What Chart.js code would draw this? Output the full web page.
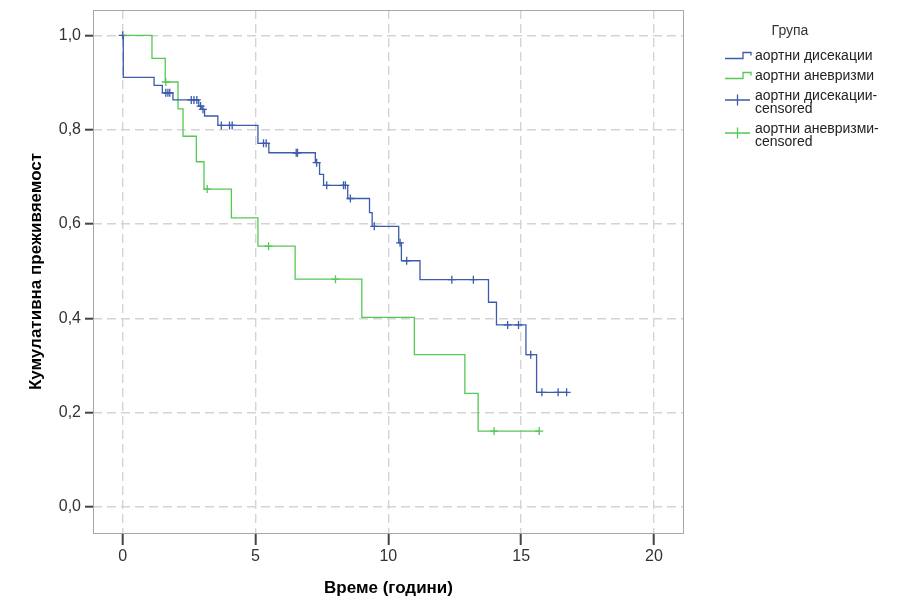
<!DOCTYPE html>
<html>
<head>
<meta charset="utf-8">
<script src="https://cdn.jsdelivr.net/npm/chart.js@4.4.0/dist/chart.umd.min.js"></script>
<style>
  html, body { margin: 0; padding: 0; background: #fff; }
  #wrap { width: 909px; height: 614px; }
</style>
</head>
<body>
<div id="wrap"><canvas id="kmChart" width="909" height="614"></canvas></div>
<script>
// Kaplan-Meier steps: time of drop and survival after the drop
const dissTimes = [0, 0.02, 1.18, 1.49, 1.89, 2.86, 2.98, 3.08, 3.58, 5.09, 5.5, 7.25, 7.41, 7.56, 8.47, 9.29, 9.39, 10.39, 10.49, 11.19, 13.77, 14.07, 15.18, 15.58, 16.71];
const dissSurv  = [1.0, 0.911, 0.894, 0.878, 0.863, 0.850, 0.843, 0.829, 0.809, 0.771, 0.751, 0.730, 0.705, 0.682, 0.654, 0.624, 0.595, 0.560, 0.522, 0.482, 0.434, 0.386, 0.323, 0.243, 0.243];
const dissCensorTimes = [0, 1.62, 1.70, 1.77, 2.58, 2.68, 2.79, 2.93, 3.02, 3.71, 4.02, 4.12, 5.30, 5.40, 6.53, 6.58, 7.30, 7.68, 8.31, 8.38, 8.57, 9.47, 10.44, 10.69, 12.39, 13.20, 14.49, 14.90, 15.36, 15.78, 16.39, 16.71];
const dissCensorSurv  = [1.0, 0.878, 0.878, 0.878, 0.863, 0.863, 0.863, 0.850, 0.843, 0.809, 0.809, 0.809, 0.771, 0.771, 0.751, 0.751, 0.730, 0.682, 0.682, 0.682, 0.654, 0.595, 0.560, 0.522, 0.482, 0.482, 0.386, 0.386, 0.323, 0.243, 0.243, 0.243];

const aneuTimes = [0, 1.10, 1.60, 2.08, 2.27, 2.77, 3.06, 4.09, 5.09, 6.49, 9.00, 10.98, 12.88, 13.38, 15.68];
const aneuSurv  = [1.0, 0.951, 0.901, 0.844, 0.786, 0.732, 0.674, 0.613, 0.553, 0.483, 0.402, 0.323, 0.241, 0.161, 0.161];
const aneuCensorTimes = [1.62, 3.18, 5.49, 8.01, 13.98, 15.68];
const aneuCensorSurv  = [0.901, 0.674, 0.553, 0.483, 0.161, 0.161];

const xTickValues = [0, 5, 10, 15, 20];
const xTickLabels = ['0', '5', '10', '15', '20'];
const yTickValues = [0, 0.2, 0.4, 0.6, 0.8, 1.0];
const yTickLabels = ['0,0', '0,2', '0,4', '0,6', '0,8', '1,0'];

const legendTitle = 'Група';
const legendLabels = [['аортни дисекации'], ['аортни аневризми'], ['аортни дисекации-', 'censored'], ['аортни аневризми-', 'censored']];

const BLUE = '#3d5bab';
const GREEN = '#55c855';
const FONT = '"Liberation Sans", Arial, sans-serif';

const pts = (xs, ys) => xs.map((x, i) => ({ x: x, y: ys[i] }));

const framePlugin = {
  id: 'frame',
  beforeDatasetsDraw(chart) {
    const { ctx, chartArea: a } = chart;
    ctx.save();
    ctx.strokeStyle = '#a6a6a6';
    ctx.lineWidth = 1;
    ctx.strokeRect(a.left + 0.5, a.top + 0.5, a.right - a.left - 1, a.bottom - a.top);
    ctx.restore();
  }
};

const legendPlugin = {
  id: 'kmLegend',
  afterDraw(chart) {
    const ctx = chart.ctx;
    ctx.save();
    ctx.font = '14px ' + FONT;
    ctx.fillStyle = '#333';
    ctx.textBaseline = 'middle';
    ctx.textAlign = 'center';
    ctx.fillText(legendTitle, 790, 31);
    ctx.textAlign = 'left';
    ctx.fillStyle = '#222';
    const rows = [56, 76, 96, 129];
    const colors = [BLUE, GREEN, BLUE, GREEN];
    legendLabels.forEach((lines, i) => {
      const y = rows[i];
      lines.forEach((t, j) => ctx.fillText(t, 755, y + j * 13.5));
      ctx.strokeStyle = colors[i];
      ctx.lineWidth = 1.3;
      ctx.beginPath();
      if (i < 2) {
        ctx.moveTo(725, y + 2.5);
        ctx.lineTo(743, y + 2.5);
        ctx.lineTo(743, y - 3.5);
        ctx.lineTo(751, y - 3.5);
        ctx.lineTo(751, y - 0.5);
      } else {
        const cy = y + 4;
        ctx.moveTo(725, cy);
        ctx.lineTo(750, cy);
        ctx.moveTo(737.5, cy - 5.5);
        ctx.lineTo(737.5, cy + 5.5);
      }
      ctx.stroke();
    });
    ctx.restore();
  }
};

const tickFont = { family: FONT, size: 16 };
const titleFont = { family: FONT, size: 17, weight: 'bold' };

new Chart(document.getElementById('kmChart'), {
  type: 'line',
  data: {
    datasets: [
      { label: 'аортни дисекации', data: pts(dissTimes, dissSurv), stepped: 'before', borderColor: BLUE, borderWidth: 1.3, pointRadius: 0, fill: false },
      { label: 'аортни аневризми', data: pts(aneuTimes, aneuSurv), stepped: 'before', borderColor: GREEN, borderWidth: 1.3, pointRadius: 0, fill: false },
      { type: 'scatter', label: 'аортни дисекации-censored', data: pts(dissCensorTimes, dissCensorSurv), showLine: false, pointStyle: 'cross', pointRadius: 4, pointBorderWidth: 1.3, borderColor: BLUE, backgroundColor: BLUE },
      { type: 'scatter', label: 'аортни аневризми-censored', data: pts(aneuCensorTimes, aneuCensorSurv), showLine: false, pointStyle: 'cross', pointRadius: 4, pointBorderWidth: 1.3, borderColor: GREEN, backgroundColor: GREEN }
    ]
  },
  options: {
    responsive: false,
    animation: false,
    events: [],
    layout: { padding: { top: 10, right: 225, left: 0, bottom: 0 } },
    scales: {
      x: {
        type: 'linear',
        min: -1.12,
        max: 21.13,
        afterBuildTicks: ax => { ax.ticks = xTickValues.map(v => ({ value: v })); },
        afterFit: ax => { ax.height = 81; ax.paddingLeft = 0; ax.paddingRight = 0; },
        ticks: { font: tickFont, color: '#333', padding: 2, maxRotation: 0,
                 callback: (v, i) => xTickLabels[i] },
        grid: { color: '#d4d4d4', lineWidth: 1.4, borderDash: [9, 5], tickColor: '#444', tickWidth: 2, tickLength: 12, tickBorderDash: [] },
        border: { display: false, dash: [9, 5] },
        title: { display: true, text: 'Време (години)', font: titleFont, color: '#000', padding: { top: 0, bottom: 15 } }
      },
      y: {
        type: 'linear',
        min: -0.0552,
        max: 1.0537,
        afterBuildTicks: ax => { ax.ticks = yTickValues.map(v => ({ value: v })); },
        afterFit: ax => { ax.width = 93; ax.paddingTop = 0; ax.paddingBottom = 0; },
        ticks: { font: tickFont, color: '#333', padding: 4,
                 callback: (v, i) => yTickLabels[i] },
        grid: { color: '#d4d4d4', lineWidth: 1.4, borderDash: [9, 5], tickColor: '#444', tickWidth: 2, tickLength: 8, tickBorderDash: [] },
        border: { display: false, dash: [9, 5] },
        title: { display: true, text: 'Кумулативна преживяемост', font: titleFont, color: '#000', padding: { top: 26, bottom: 0 } }
      }
    },
    plugins: {
      legend: { display: false },
      tooltip: { enabled: false }
    }
  },
  plugins: [framePlugin, legendPlugin]
});
</script>
</body>
</html>
